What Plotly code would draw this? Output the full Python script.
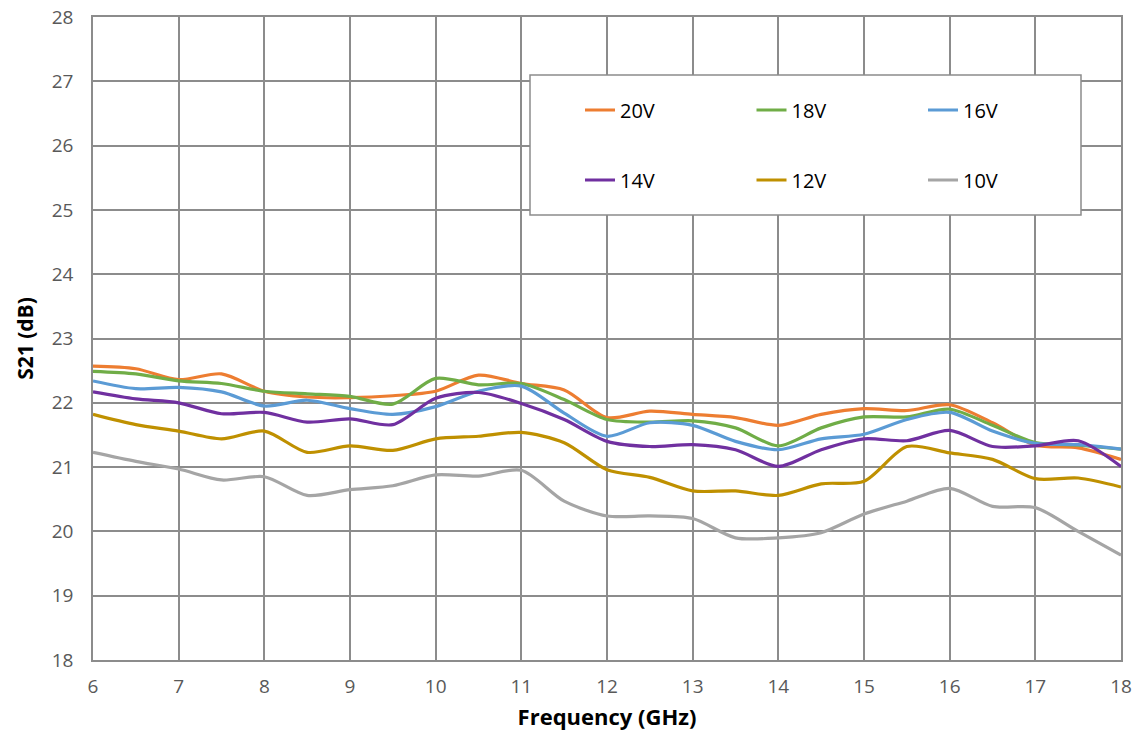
import plotly.graph_objects as go

freq = [6, 6.5, 7, 7.5, 8, 8.5, 9, 9.5, 10, 10.5, 11, 11.5, 12, 12.5, 13, 13.5, 14, 14.5, 15, 15.5, 16, 16.5, 17, 17.5, 18]

v20 = [22.57, 22.53, 22.36, 22.45, 22.18, 22.09, 22.08, 22.11, 22.18, 22.43, 22.30, 22.20, 21.77, 21.87, 21.82, 21.77, 21.65, 21.82, 21.91, 21.88, 21.97, 21.69, 21.34, 21.30, 21.12]
v18 = [22.49, 22.45, 22.34, 22.30, 22.18, 22.14, 22.10, 21.98, 22.38, 22.28, 22.30, 22.05, 21.74, 21.70, 21.72, 21.61, 21.33, 21.61, 21.78, 21.78, 21.90, 21.65, 21.38, 21.34, 21.28]
v16 = [22.34, 22.22, 22.24, 22.17, 21.95, 22.04, 21.91, 21.82, 21.94, 22.18, 22.26, 21.84, 21.48, 21.69, 21.65, 21.40, 21.27, 21.44, 21.51, 21.74, 21.85, 21.56, 21.37, 21.35, 21.28]
v14 = [22.17, 22.06, 22.00, 21.83, 21.85, 21.70, 21.75, 21.66, 22.07, 22.16, 21.99, 21.74, 21.40, 21.32, 21.35, 21.27, 21.01, 21.27, 21.44, 21.41, 21.57, 21.32, 21.33, 21.41, 21.01]
v12 = [21.82, 21.66, 21.56, 21.44, 21.56, 21.23, 21.33, 21.26, 21.44, 21.48, 21.54, 21.38, 20.96, 20.84, 20.63, 20.63, 20.56, 20.74, 20.78, 21.32, 21.22, 21.12, 20.82, 20.83, 20.69]
v10 = [21.23, 21.09, 20.97, 20.80, 20.85, 20.56, 20.65, 20.71, 20.88, 20.86, 20.95, 20.47, 20.24, 20.24, 20.20, 19.90, 19.90, 19.98, 20.27, 20.47, 20.67, 20.39, 20.37, 20.00, 19.63]

names = ["20V", "18V", "16V", "14V", "12V", "10V"]
colors = ["#ED7D31", "#70AD47", "#5B9BD5", "#7030A0", "#BF9000", "#A5A5A5"]
series = [v20, v18, v16, v14, v12, v10]
legend_ids = ["legend", "legend", "legend", "legend2", "legend2", "legend2"]

W, H = 1138, 747
ml, mr, mt, mb = 93, 17, 17, 87
pw, ph = W - ml - mr, H - mt - mb

def px(x):
    return (x - ml) / pw

def py(y):
    return (H - mb - y) / ph

fig = go.Figure()
for n, c, s, lg in zip(names, colors, series, legend_ids):
    fig.add_trace(go.Scatter(x=freq, y=s, name=n, mode="lines",
                             line=dict(color=c, width=3.2, shape="spline", smoothing=0.8),
                             legend=lg))

grid = "#8C8C8C"
font_family = "Open Sans"

fig.add_shape(type="rect", xref="paper", yref="paper",
              x0=px(530), x1=px(1081), y0=py(215), y1=py(75),
              fillcolor="white", line=dict(color=grid, width=1.5), layer="above")

legend_common = dict(orientation="h", xanchor="left", yanchor="middle",
                     bgcolor="rgba(0,0,0,0)", borderwidth=0,
                     font=dict(family=font_family, size=20, color="#000000"),
                     entrywidth=126.5, entrywidthmode="pixels", itemwidth=30,
                     xref="paper", yref="paper")

fig.update_layout(
    width=W, height=H,
    margin=dict(l=ml, r=mr, t=mt, b=mb, autoexpand=False),
    paper_bgcolor="white", plot_bgcolor="white",
    font=dict(family=font_family, color="#595959"),
    legend=dict(x=px(580), y=py(110), **legend_common),
    legend2=dict(x=px(580), y=py(180), **legend_common),
    xaxis=dict(range=[6, 18], dtick=1, tick0=6, showgrid=True, gridcolor=grid, gridwidth=1.5,
               showline=True, linecolor=grid, linewidth=1.5, mirror=True, zeroline=False,
               automargin=False,
               ticks="", tickfont=dict(size=19, color="#595959"), ticklabelstandoff=8,
               title=dict(text="<b>Frequency (GHz)</b>", font=dict(size=22, color="#000000"), standoff=12)),
    yaxis=dict(range=[18, 28], dtick=1, tick0=18, showgrid=True, gridcolor=grid, gridwidth=1.5,
               showline=True, linecolor=grid, linewidth=1.5, mirror=True, zeroline=False,
               automargin=False,
               ticks="", tickfont=dict(size=19, color="#595959"), ticklabelstandoff=14,
               title=dict(text="<b>S21 (dB)</b>", font=dict(size=21, color="#000000"), standoff=12)),
)

fig.write_html("out.html")
